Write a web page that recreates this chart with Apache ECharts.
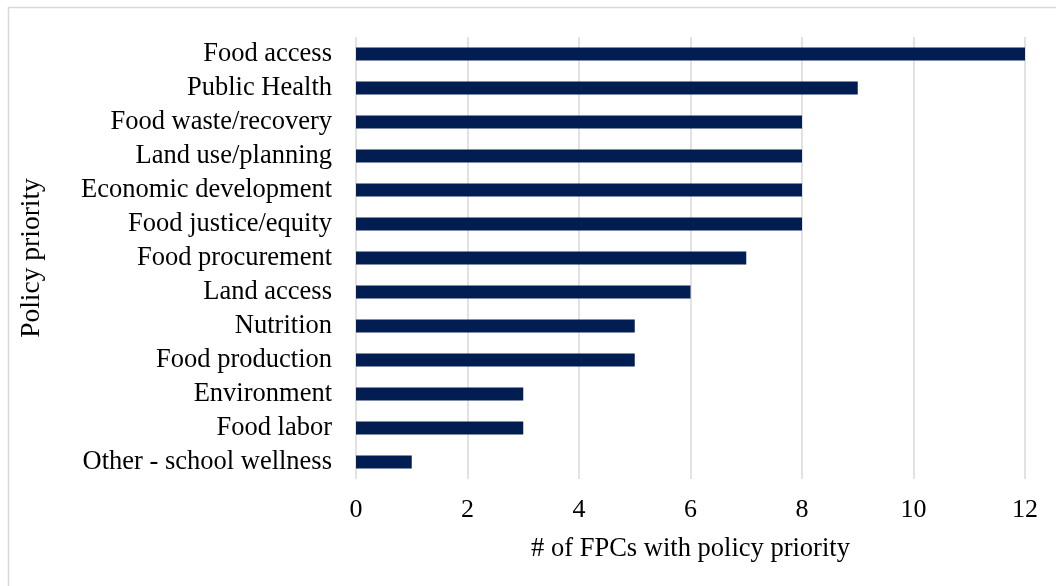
<!DOCTYPE html>
<html>
<head>
<meta charset="utf-8">
<script src="https://cdn.jsdelivr.net/npm/echarts@6/dist/echarts.min.js"></script>
<style>
  html, body { margin: 0; padding: 0; background: #fff; }
  #chart { width: 1056px; height: 586px; }
</style>
</head>
<body>
<div id="chart"></div>
<script>
var categories = [
  'Food access', 'Public Health', 'Food waste/recovery', 'Land use/planning',
  'Economic development', 'Food justice/equity', 'Food procurement', 'Land access',
  'Nutrition', 'Food production', 'Environment', 'Food labor', 'Other - school wellness'
]
var counts = [12, 9, 8, 8, 8, 8, 7, 6, 5, 5, 3, 3, 1]
var xTicks = [0, 2, 4, 6, 8, 10, 12]

var serif = '"Liberation Serif", "Times New Roman", serif'
var chart = echarts.init(document.getElementById('chart'))
chart.setOption({
  animation: false,
  textStyle: { fontFamily: serif },
  graphic: [{
    type: 'rect',
    shape: { x: 8.5, y: 7.5, width: 1060, height: 600 },
    style: { fill: 'none', stroke: '#d9d9d9', lineWidth: 1.5 },
    silent: true
  }],
  grid: { left: 356, right: 31, top: 37, bottom: 107 },
  xAxis: {
    type: 'value',
    min: xTicks[0],
    max: xTicks[xTicks.length - 1],
    interval: 2,
    name: '# of FPCs with policy priority',
    nameLocation: 'middle',
    nameGap: 57,
    nameTextStyle: { fontSize: 26.5, color: '#000', fontFamily: serif },
    axisLine: { show: false },
    axisTick: { show: false },
    axisLabel: { fontSize: 26, color: '#000', margin: 18, fontFamily: serif },
    splitLine: { lineStyle: { color: '#d9d9d9', width: 1.5 } }
  },
  yAxis: {
    type: 'category',
    data: categories,
    inverse: true,
    name: 'Policy priority',
    nameLocation: 'middle',
    nameGap: 310,
    nameRotate: 90,
    nameTextStyle: { fontSize: 27.5, color: '#000', fontFamily: serif },
    axisLine: { show: false },
    axisTick: { show: false },
    axisLabel: { interval: 0, fontSize: 26.5, color: '#000', margin: 24, fontFamily: serif }
  },
  series: [{
    type: 'bar',
    data: counts,
    barWidth: 13,
    itemStyle: { color: '#021d52' }
  }]
})
</script>
</body>
</html>
